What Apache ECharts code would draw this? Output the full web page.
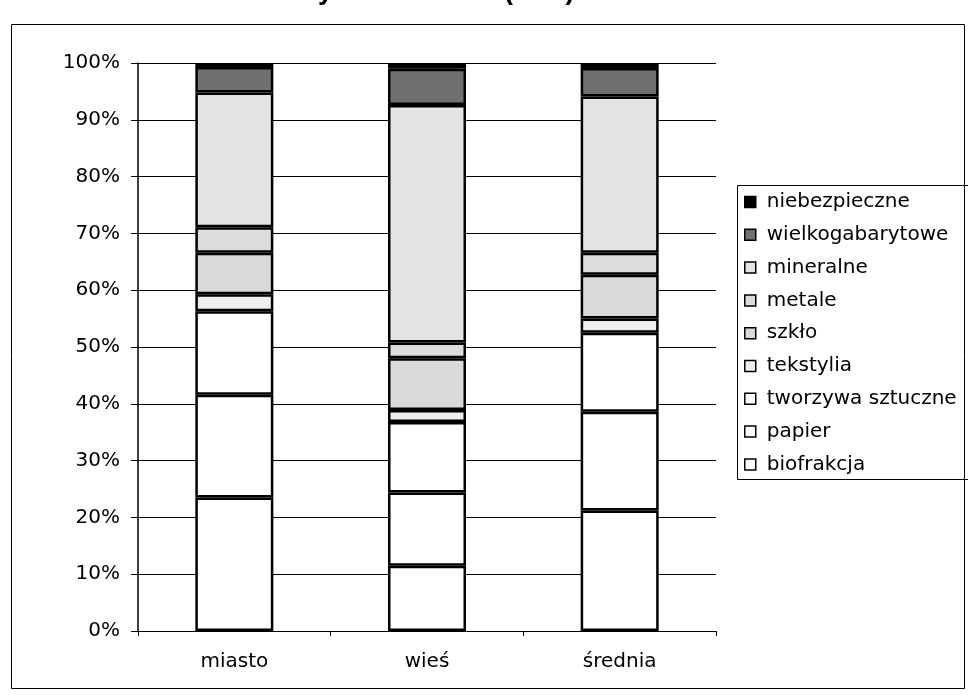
<!DOCTYPE html>
<html>
<head>
<meta charset="utf-8">
<script src="https://cdn.jsdelivr.net/npm/echarts@6/dist/echarts.min.js"></script>
<style>
  html, body { margin: 0; padding: 0; background: #fff; }
  #chart { width: 968px; height: 695px; }
</style>
</head>
<body>
<div id="chart"></div>
<script>
// Struktura odpadów (% udział frakcji) – miasto, wieś i średnia
const categories = ['miasto', 'wieś', 'średnia'];

const biofrakcja       = [23.5, 11.5, 21.2];
const papier           = [18.1, 12.9, 17.4];
const tworzywaSztuczne = [14.7, 12.4, 13.9];
const tekstylia        = [3.0, 2.1, 2.5];
const szklo            = [7.3, 9.1, 7.7];
const metale           = [4.5, 2.8, 3.9];
const mineralne        = [23.7, 41.8, 27.5];
const wielkogabarytowe = [4.5, 6.4, 5.0];
const niebezpieczne    = [0.7, 1.0, 0.9];

const yTicks = [0, 10, 20, 30, 40, 50, 60, 70, 80, 90, 100];

// stack order, bottom to top
const layers = [
  { name: 'biofrakcja',         data: biofrakcja,       color: '#ffffff' },
  { name: 'papier',             data: papier,           color: '#ffffff' },
  { name: 'tworzywa sztuczne',  data: tworzywaSztuczne, color: '#ffffff' },
  { name: 'tekstylia',          data: tekstylia,        color: '#eeeeee' },
  { name: 'szkło',              data: szklo,            color: '#d9d9d9' },
  { name: 'metale',             data: metale,           color: '#dcdcdc' },
  { name: 'mineralne',          data: mineralne,        color: '#e4e4e4' },
  { name: 'wielkogabarytowe',   data: wielkogabarytowe, color: '#707070' },
  { name: 'niebezpieczne',      data: niebezpieczne,    color: '#000000' }
];

const font = 'DejaVu Sans';
const chart = echarts.init(document.getElementById('chart'), null, { renderer: 'canvas' });

chart.setOption({
  animation: false,
  backgroundColor: '#ffffff',
  textStyle: { fontFamily: font, color: '#000' },
  grid: { left: 138, right: 252, top: 63, bottom: 64 },
  graphic: [
    {
      type: 'text',
      left: 96, top: -22,
      style: {
        text: 'oraz średnia dla tych obszarów (w %)',
        font: 'bold 27px "Liberation Sans"',
        fill: '#000'
      }
    },
    {
      type: 'rect',
      shape: { x: 11.5, y: 24.5, width: 953, height: 664 },
      style: { fill: 'none', stroke: '#000', lineWidth: 1 },
      z: 0
    },
    {
      type: 'rect',
      shape: { x: 737.5, y: 185.5, width: 240, height: 294 },
      style: { fill: 'none', stroke: '#000', lineWidth: 1 },
      z: 0
    }
  ],
  legend: {
    orient: 'vertical',
    left: 744,
    top: 192,
    padding: 0,
    itemGap: 12.8,
    itemWidth: 11,
    itemHeight: 11,
    icon: 'rect',
    data: layers.map(l => l.name).reverse(),
    itemStyle: { borderColor: '#000', borderWidth: 1.5 },
    textStyle: { fontFamily: font, fontSize: 20, color: '#000', lineHeight: 20, padding: [0, 0, 0, 6] }
  },
  xAxis: {
    type: 'category',
    data: categories,
    axisLine: { lineStyle: { color: '#000', width: 1 } },
    axisTick: { show: true, length: 5, lineStyle: { color: '#000' } },
    axisLabel: { fontFamily: font, fontSize: 20, color: '#000', margin: 21 }
  },
  yAxis: {
    type: 'value',
    min: yTicks[0],
    max: yTicks[yTicks.length - 1],
    interval: 10,
    axisLine: { show: true, lineStyle: { color: '#000', width: 1.5 } },
    axisTick: { show: true, length: 7, lineStyle: { color: '#000' } },
    axisLabel: { fontFamily: font, fontSize: 20, color: '#000', margin: 18, formatter: '{value}%' },
    splitLine: { show: true, lineStyle: { color: '#000', width: 1 } }
  },
  series: layers.map(l => ({
    name: l.name,
    type: 'bar',
    stack: 'total',
    barWidth: 78,
    data: l.data,
    itemStyle: { color: l.color, borderColor: '#000', borderWidth: 2.5 },
    emphasis: { disabled: true }
  }))
});
</script>
</body>
</html>
